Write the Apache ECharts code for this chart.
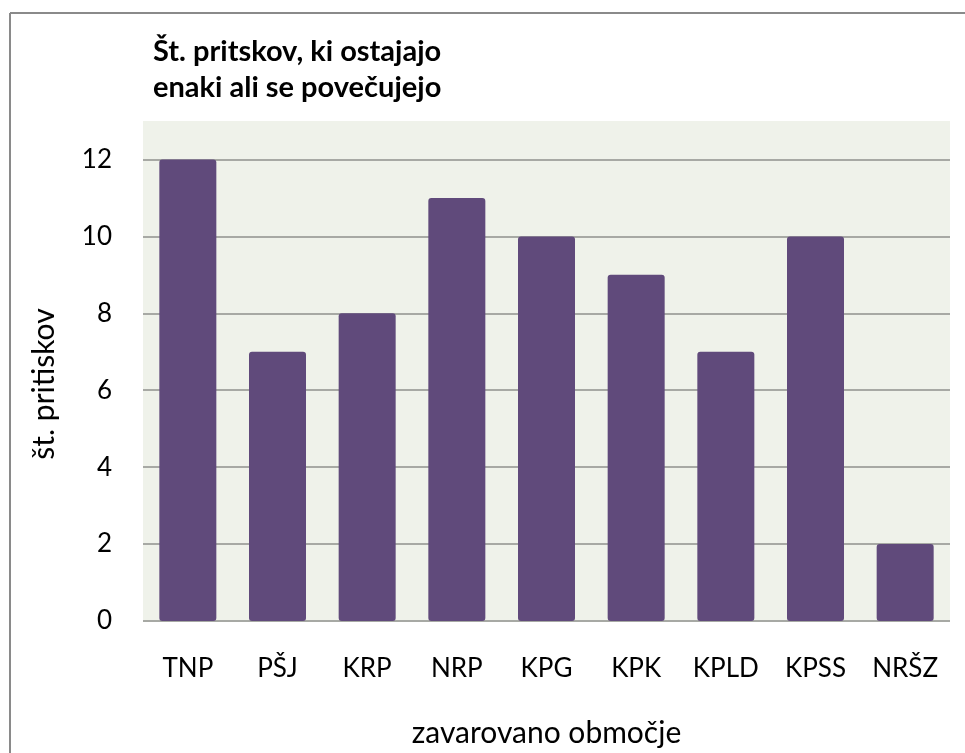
<!DOCTYPE html>
<html>
<head>
<meta charset="utf-8">
<script src="https://cdn.jsdelivr.net/npm/echarts@6/dist/echarts.min.js"></script>
<style>
  html, body { margin: 0; padding: 0; background: #fff; }
  #chart { width: 965px; height: 753px; }
</style>
</head>
<body>
<div id="chart"></div>
<script>
var categories = ['TNP', 'PŠJ', 'KRP', 'NRP', 'KPG', 'KPK', 'KPLD', 'KPSS', 'NRŠZ'];
var values = [12, 7, 8, 11, 10, 9, 7, 10, 2];
var titleText = 'Št. pritskov, ki ostajajo\nenaki ali se povečujejo';
var xName = 'zavarovano območje';
var yName = 'št. pritiskov';

var font = 'Lato, "Open Sans", sans-serif';
var chart = echarts.init(document.getElementById('chart'));

var option = {
    backgroundColor: '#fff',
    animation: false,
    title: {
        text: titleText,
        left: 148,
        top: 29,
        textStyle: {
            fontFamily: font,
            fontSize: 29,
            fontWeight: 'bold',
            color: '#000',
            lineHeight: 36
        }
    },
    graphic: [
        { type: 'line', shape: { x1: 10, y1: 13, x2: 965, y2: 13 }, style: { stroke: '#8a8a8a', lineWidth: 2 } },
        { type: 'line', shape: { x1: 10, y1: 13, x2: 10, y2: 753 }, style: { stroke: '#8a8a8a', lineWidth: 2 } }
    ],
    grid: {
        left: 143,
        right: 15,
        top: 121,
        bottom: 131,
        show: true,
        backgroundColor: '#eff2ea',
        borderWidth: 0
    },
    xAxis: {
        type: 'category',
        data: categories,
        name: xName,
        nameLocation: 'middle',
        nameGap: 97,
        nameTextStyle: { fontFamily: font, fontSize: 30, color: '#000' },
        axisLine: { show: false },
        axisTick: { show: false },
        axisLabel: { fontFamily: font, fontSize: 26, color: '#000', margin: 35 }
    },
    yAxis: {
        type: 'value',
        min: 0,
        max: 13,
        interval: 2,
        name: yName,
        nameLocation: 'middle',
        nameGap: 84,
        nameTextStyle: { fontFamily: font, fontSize: 30, color: '#000', padding: [0, 26, 0, 0] },
        axisLine: { show: false },
        axisTick: { show: false },
        axisLabel: {
            fontFamily: font, fontSize: 26, color: '#000', margin: 31,
            showMaxLabel: false
        },
        splitLine: {
            showMaxLine: false,
            lineStyle: { color: '#a7a9a4', width: 2 }
        }
    },
    series: [{
        type: 'bar',
        data: values,
        barWidth: 57,
        itemStyle: { color: '#604a7b', borderRadius: 3 }
    }]
};
chart.setOption(option);
</script>
</body>
</html>
